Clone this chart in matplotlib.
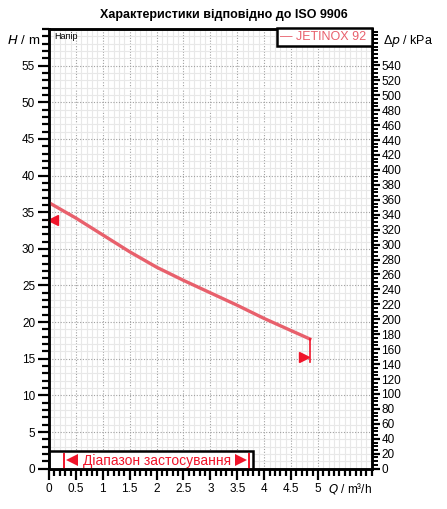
import matplotlib
matplotlib.use("Agg")
import matplotlib.pyplot as plt
from matplotlib.ticker import MultipleLocator
from matplotlib.patches import Rectangle

# дані кривої
flow = [0, 0.5, 1.0, 1.5, 2.0, 2.5, 3.0, 3.5, 4.0, 4.5, 4.85]
head = [36.3, 34.2, 31.9, 29.6, 27.5, 25.7, 24.0, 22.3, 20.5, 18.85, 17.7]
end_drop = [17.7, 14.6]
marker_left = (0.08, 34.0)
marker_right = (4.75, 15.2)
range_q = [0.28, 3.72]
series_name = "JETINOX 92"

KPA_PER_M = 9.81
red = "#e8606c"
bright_red = "#f0142a"

plt.rcParams['font.family'] = ['Liberation Sans', 'DejaVu Sans']

fig = plt.figure(figsize=(4.47, 5.09), dpi=100)
ax = fig.add_axes([49/447, 1 - 468.7/509, (371.7 - 49)/447, (468.7 - 29)/509])
ax.set_xlim(0, 6)
ax.set_ylim(0, 60)

# сітка
ax.xaxis.set_major_locator(MultipleLocator(0.5))
ax.xaxis.set_minor_locator(MultipleLocator(0.1))
ax.yaxis.set_major_locator(MultipleLocator(5))
ax.yaxis.set_minor_locator(MultipleLocator(1))
ax.grid(which="minor", color="#e8e8e8", linewidth=0.8)
ax.grid(which="major", color="#a0a0a0", linewidth=0.8, linestyle=(0, (1, 1.5)))
ax.set_axisbelow(True)

xt = [0, 0.5, 1, 1.5, 2, 2.5, 3, 3.5, 4, 4.5, 5]
ax.set_xticks(xt)
ax.set_xticklabels([("%g" % v) for v in xt], fontsize=8.5)
ax.set_yticks(range(0, 60, 5))
ax.set_yticklabels([str(v) for v in range(0, 60, 5)], fontsize=8.5)
ax.tick_params(which="major", direction="out", length=8, width=1.6, pad=2)
ax.tick_params(which="minor", direction="out", length=5, width=1.6)
ax.tick_params(axis="x", which="both", top=False)
for s in ax.spines.values():
    s.set_linewidth(1.8)

ax2 = ax.twinx()
ax2.set_ylim(0, 60 * KPA_PER_M)
ax2.yaxis.set_minor_locator(MultipleLocator(5))
ax2.set_yticks(range(0, 541, 20))
ax2.set_yticklabels([str(v) for v in range(0, 541, 20)], fontsize=8.5)
ax2.tick_params(which="major", direction="out", length=6, width=1.6, pad=1)
ax2.tick_params(which="minor", direction="out", length=4, width=1.4)
for s in ax2.spines.values():
    s.set_linewidth(1.8)

# крива
ax.plot(flow, head, color=red, linewidth=2.4, solid_joinstyle="round", zorder=5)
ax.plot([flow[-1], flow[-1]], end_drop, color=bright_red, linewidth=1.2, zorder=5)
ax.plot(*marker_left, marker="<", color=bright_red, markersize=7, zorder=6, clip_on=False)
ax.plot(*marker_right, marker=">", color=bright_red, markersize=7, zorder=6)

# легенда
leg_box = Rectangle((276.7/447, 1 - 46/509), (371.7 - 276.7)/447, 17.5/509,
                    transform=fig.transFigure, facecolor="white", edgecolor="black",
                    linewidth=1.8, zorder=10)
fig.patches.append(leg_box)
fig.text(280/447, 1 - 37.5/509, "— " + series_name, color=red, fontsize=9,
         va="center", ha="left", zorder=11)

# діапазон застосування
rng_box = Rectangle((0, 0), 3.79, 2.4, facecolor="white", edgecolor="black",
                    linewidth=1.8, zorder=7, clip_on=False)
ax.add_patch(rng_box)
for q in range_q:
    ax.plot([q, q], [0.15, 2.0], color=bright_red, linewidth=1.4, zorder=8)
ax.plot(range_q[0] + 0.15, 1.15, marker="<", color=bright_red, markersize=9,
        markeredgewidth=0, zorder=8)
ax.plot(range_q[1] - 0.15, 1.15, marker=">", color=bright_red, markersize=9,
        markeredgewidth=0, zorder=8)
ax.text(sum(range_q) / 2, 1.1, "Діапазон застосування", color=bright_red,
        fontsize=10, ha="center", va="center", zorder=8)

# підписи
fig.text(224/447, 1 - 15/509, "Характеристики відповідно до ISO 9906",
         fontsize=9, fontweight="bold", ha="center", va="center")
ax.text(0.1, 59.6, "Напір", fontsize=6.5, va="top", ha="left", zorder=8)
fig.text(7/447, 1 - 41/509, "$\\it{H}$ / m", fontsize=9.5, va="center", ha="left")
fig.text(383/447, 1 - 41/509, "Δ$\\it{p}$ / kPa", fontsize=9, va="center", ha="left")
fig.text(328/447, 1 - 488/509, "$\\it{Q}$ / m³/h", fontsize=8.5, va="center", ha="left")

fig.savefig("out.png", dpi=100)
